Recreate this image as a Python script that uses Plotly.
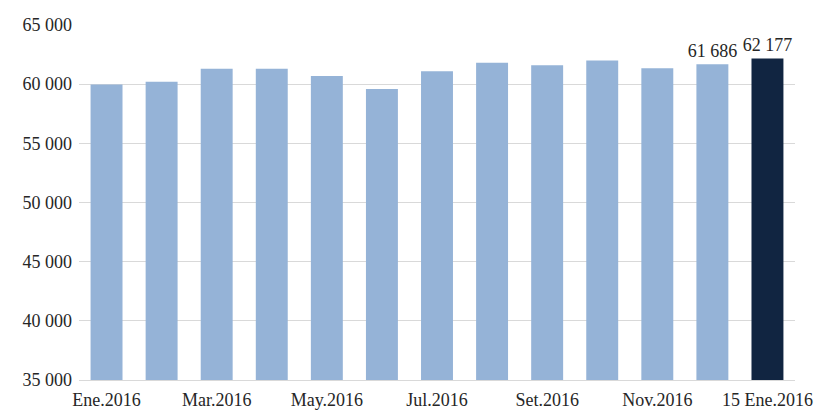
import plotly.graph_objects as go

categories = ["Ene.2016", "Feb.2016", "Mar.2016", "Abr.2016", "May.2016", "Jun.2016",
              "Jul.2016", "Ago.2016", "Set.2016", "Oct.2016", "Nov.2016", "Dic.2016",
              "15 Ene.2016"]
values = [59980, 60200, 61300, 61300, 60680, 59600, 61100, 61800, 61600, 62000,
          61350, 61686, 62177]
labels = ["", "", "", "", "", "", "", "", "", "", "", "61 686", "62 177"]
tick_labels = ["Ene.2016", "Mar.2016", "May.2016", "Jul.2016", "Set.2016", "Nov.2016",
               "15 Ene.2016"]
tick_positions = [categories[i] for i in (0, 2, 4, 6, 8, 10, 12)]
y_ticks = [35000, 40000, 45000, 50000, 55000, 60000, 65000]
y_tick_text = ["35 000", "40 000", "45 000", "50 000", "55 000", "60 000", "65 000"]

colors = ["#95B3D7"] * 12 + ["#112541"]
font_family = "Liberation Serif, Times New Roman, serif"

fig = go.Figure(go.Bar(
    x=categories, y=values, marker=dict(color=colors, line=dict(width=0)),
    text=labels, textposition="outside", cliponaxis=False, constraintext="none",
    textfont=dict(family=font_family, size=18, color="#262626"),
))

fig.update_layout(
    width=816, height=410,
    margin=dict(l=79, r=21, t=25, b=30, autoexpand=False),
    plot_bgcolor="white", paper_bgcolor="white",
    bargap=0.42,
    showlegend=False,
    font=dict(family=font_family, size=18, color="#262626"),
    xaxis=dict(tickmode="array", tickvals=tick_positions, ticktext=tick_labels,
               showgrid=False, showline=True, linecolor="#d9d9d9", linewidth=1,
               ticks="", tickangle=0, ticklen=0, automargin=False,
               ticklabelstandoff=3),
    yaxis=dict(range=[35000, 65000], tickmode="array", tickvals=y_ticks,
               ticktext=y_tick_text, showgrid=True, gridcolor="#d9d9d9",
               gridwidth=1, zeroline=False, ticks="", showline=False,
               automargin=False, ticklabelstandoff=6),
)

fig.write_html(
    "out.html",
    config={"displayModeBar": False},
    post_script="document.body.style.margin='0px';document.body.style.overflow='hidden';",
)
